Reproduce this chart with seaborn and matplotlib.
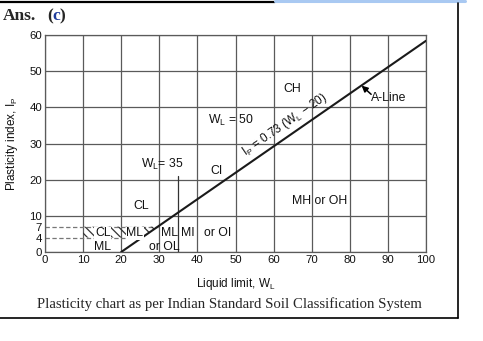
import numpy as np
import pandas as pd
import matplotlib
matplotlib.use("Agg")
import matplotlib.pyplot as plt
import seaborn as sns
from matplotlib.patches import Polygon
from matplotlib.lines import Line2D

# Plasticity chart data (IS soil classification)
a_line_slope = 0.73
a_line_origin = 20
a_line_wl = [20, 100]
a_line_ip = [0.0, 58.4]
x_ticks = [0, 10, 20, 30, 40, 50, 60, 70, 80, 90, 100]
y_major = [0, 10, 20, 30, 40, 50, 60]
y_minor = [4, 7]
band_ip = [4, 7]
wl_dividers = [35, 50]
zone_names = ["CH", "CI", "CL", "MH or OH", "CL", "ML", "ML", "ML", "or OL", "MI", "or OI"]
zone_wl = [64.8, 44.9, 25.2, 72.2, 15.2, 23.6, 15.2, 32.8, 31.2, 37.5, 45.2]
zone_ip = [45.0, 22.4, 12.7, 14.1, 5.2, 5.2, 1.4, 5.2, 1.4, 5.2, 5.2]

sns.set_theme(style="white")
plt.rcParams["font.family"] = ["Liberation Sans", "DejaVu Sans"]
plt.rcParams["hatch.linewidth"] = 0.9
plt.rcParams["hatch.color"] = "#333333"

fig = plt.figure(figsize=(4.83, 3.41), dpi=100)
ax = fig.add_axes([45 / 483, 1 - 252 / 341, (426 - 45) / 483, (252 - 35) / 341])

GRID = "#5a5a5a"
LBL = 8.8
ax.set_xlim(0, 100)
ax.set_ylim(0, 60)
ax.set_xticks(x_ticks)
ax.set_yticks(y_major)
ax.set_yticks(y_minor, minor=True)
ax.set_yticklabels([str(v) for v in y_minor], minor=True)
ax.tick_params(axis="both", which="both", length=0, pad=2, labelsize=8.2, colors="#111111")
ax.grid(True, which="major", color=GRID, linewidth=0.9)
for s in ax.spines.values():
    s.set_color(GRID)
    s.set_linewidth(0.9)

def a_line_wl_at(ip):
    return ip / a_line_slope + a_line_origin

# Dashed band limits at Ip = 4 and 7
for ip in band_ip:
    ax.plot([0, a_line_wl_at(ip)], [ip, ip], color="#777777", lw=0.9,
            dashes=(3.5, 2), zorder=2)

# Hatched CL-ML band
poly = Polygon([(10, band_ip[0]), (a_line_wl_at(band_ip[0]), band_ip[0]),
                (a_line_wl_at(band_ip[1]), band_ip[1]), (10, band_ip[1])],
               closed=True, facecolor="none", edgecolor="#333333",
               hatch="\\\\\\\\", linewidth=0, zorder=2)
ax.add_patch(poly)

# W_L = 35 divider
ax.plot([wl_dividers[0], wl_dividers[0]], [0, 21], color="#333333", lw=0.9, zorder=3)

# A-line
df = pd.DataFrame({"wl": a_line_wl, "ip": a_line_ip})
sns.lineplot(data=df, x="wl", y="ip", color="#1a1a1a", lw=1.5, ax=ax, zorder=4)

ax.set_xlabel("Liquid limit, W$_\\mathregular{L}$", fontsize=8.5, labelpad=8, color="#111111")
ax.set_ylabel("Plasticity index, I$_\\mathregular{P}$", fontsize=8.5, labelpad=7, color="#111111")

for i, (name, wl, ip) in enumerate(zip(zone_names, zone_wl, zone_ip)):
    kw = {}
    if 4 <= i <= 5:
        kw["bbox"] = dict(facecolor="white", edgecolor="none", pad=0.4)
    ax.text(wl, ip, name, fontsize=LBL, ha="center", va="center", zorder=5,
            color="#111111", **kw)

ax.text(48.8, 36.5, "W$_\\mathregular{L}$ = 50", fontsize=LBL, ha="center", va="center", color="#111111")
ax.text(30.8, 24.3, "W$_\\mathregular{L}$= 35", fontsize=LBL, ha="center", va="center", color="#111111")
ax.text(63.0, 35.1, "I$_\\mathregular{P}$ = 0.73 (W$_\\mathregular{L}$ \u2212 20)", fontsize=8.5,
        ha="center", va="center", rotation=34.7, rotation_mode="anchor", color="#111111")
ax.text(85.6, 42.6, "A-Line", fontsize=LBL, ha="left", va="center", color="#111111")
ax.annotate("", xy=(83.1, 46.0), xytext=(85.6, 43.6),
            arrowprops=dict(arrowstyle="-|>", color="black", lw=1.1,
                            mutation_scale=9, shrinkA=0, shrinkB=0))

# Caption and heading
fig.text(229 / 483, 1 - 304 / 341,
         "Plasticity chart as per Indian Standard Soil Classification System",
         fontsize=10.6, family="Liberation Serif", ha="center", va="center")
fig.text(3 / 483, 1 - 16 / 341, "Ans.", fontsize=12.5, family="Liberation Serif",
         weight="bold", ha="left", va="center")
fig.text(47 / 483, 1 - 16 / 341, "(", fontsize=12.5, family="Liberation Serif",
         weight="bold", ha="left", va="center")
fig.text(52.5 / 483, 1 - 16 / 341, "c", fontsize=12.5, family="Liberation Serif",
         weight="bold", color="#1f3c9c", ha="left", va="center")
fig.text(60 / 483, 1 - 16 / 341, ")", fontsize=12.5, family="Liberation Serif",
         weight="bold", ha="left", va="center")

# Page frame lines
def fig_line(x0, y0, x1, y1, color="black", lw=1.2):
    fig.add_artist(Line2D([x0 / 483, x1 / 483], [1 - y0 / 341, 1 - y1 / 341],
                          color=color, lw=lw, transform=fig.transFigure))

fig_line(0, 1.5, 275, 1.5, lw=1.6)
fig_line(275, 1.3, 465, 1.3, color="#a9c9f2", lw=2.2)
fig_line(457.5, 3, 457.5, 317.5)
fig_line(0, 317.5, 457.5, 317.5)

fig.savefig("out.png", dpi=100)
